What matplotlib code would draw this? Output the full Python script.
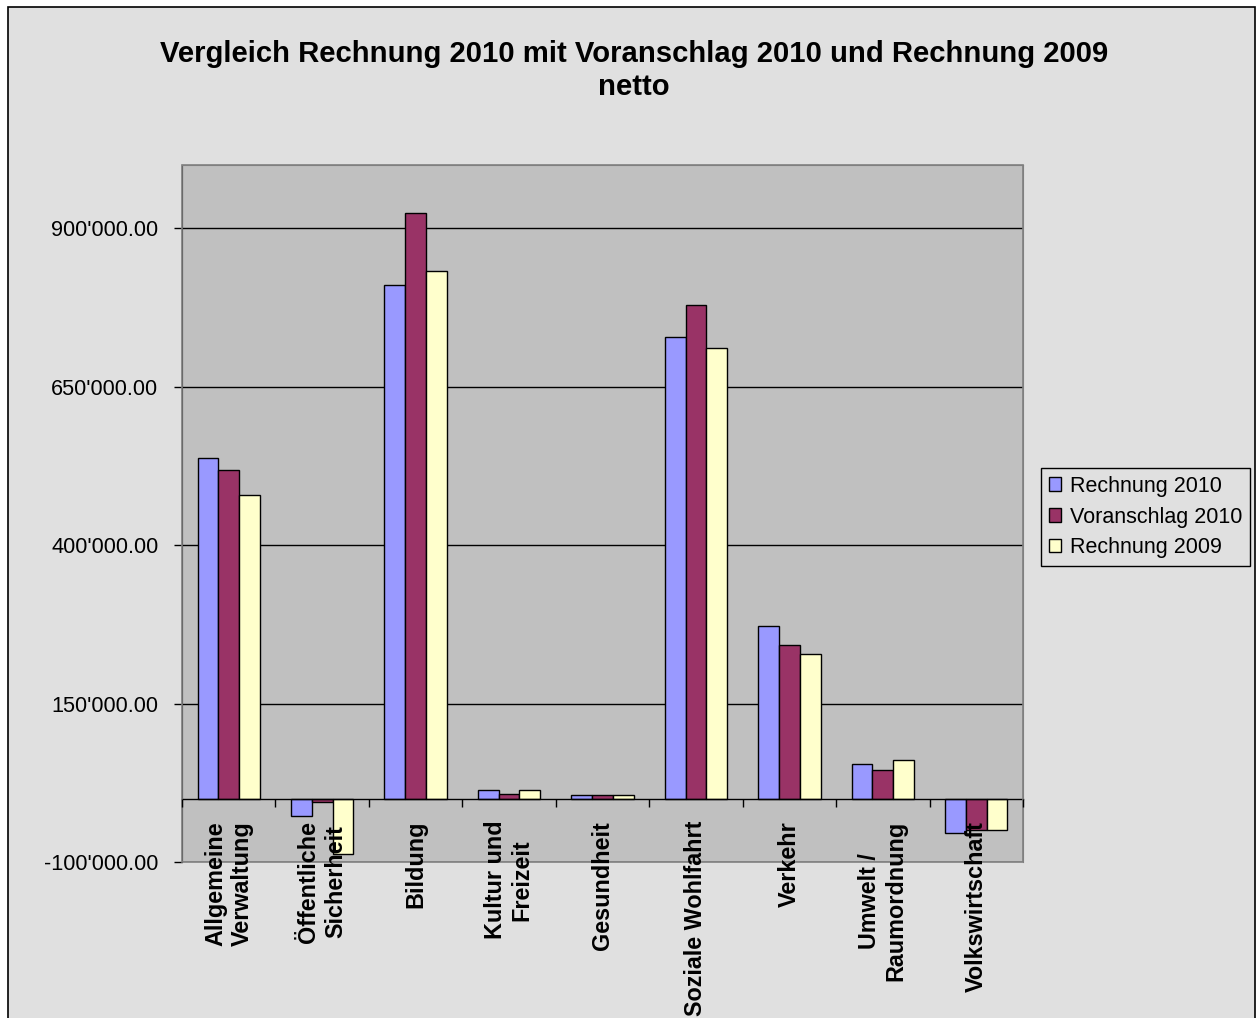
import matplotlib
matplotlib.use("Agg")
import matplotlib.pyplot as plt
import numpy as np
from matplotlib.patches import Rectangle, Patch
from matplotlib.ticker import FuncFormatter, FixedLocator

# Daten (netto)
kategorien = [
    "Allgemeine\nVerwaltung",
    "Öffentliche\nSicherheit",
    "Bildung",
    "Kultur und\nFreizeit",
    "Gesundheit",
    "Soziale Wohlfahrt",
    "Verkehr",
    "Umwelt /\nRaumordnung",
    "Volkswirtschaft",
]
rechnung_2010 = [537000, -28000, 810000, 14000, 5800, 728000, 272000, 54000, -55000]
voranschlag_2010 = [518000, -6000, 924000, 8000, 5800, 779000, 243000, 45000, -50000]
rechnung_2009 = [479000, -88000, 833000, 14000, 5800, 711000, 229000, 61000, -50000]

serien = ["Rechnung 2010", "Voranschlag 2010", "Rechnung 2009"]
farben = ["#9999FF", "#993366", "#FFFFCC"]
y_ticks = [-100000, 150000, 400000, 650000, 900000]

plt.rcParams["font.family"] = ["Liberation Sans", "DejaVu Sans"]

fig = plt.figure(figsize=(12.56, 10.18), dpi=100, facecolor="white")

# Diagrammfläche mit Rahmen
fig.patches.append(Rectangle((8 / 1256, -0.05), (1255 - 8) / 1256, 1 - 7 / 1018 + 0.05,
                             transform=fig.transFigure, facecolor="#e0e0e0",
                             edgecolor="black", linewidth=1.2, zorder=-1))

ax = fig.add_axes([182 / 1256, 1 - 862 / 1018, (1023 - 182) / 1256, (862 - 165) / 1018])
ax.set_facecolor("#c0c0c0")

x = np.arange(len(kategorien))
w = 2 / 9
for i, (werte, farbe) in enumerate(zip([rechnung_2010, voranschlag_2010, rechnung_2009], farben)):
    ax.bar(x + (i - 1) * w, werte, width=w, color=farbe, edgecolor="black",
           linewidth=1.0, zorder=2)

ax.set_xlim(-0.5, len(kategorien) - 0.5)
ax.set_ylim(-100000, 1000000)
ax.set_yticks(y_ticks)
ax.yaxis.set_major_formatter(FuncFormatter(lambda v, p: f"{v:,.2f}".replace(",", "'")))
ax.tick_params(axis="y", labelsize=15.7, length=6, width=1, color="black", pad=11)
ax.grid(axis="y", color="black", linewidth=1)
ax.set_axisbelow(True)
# Beschriftungen der Kategorien liegen über den Balken
ax.xaxis.set_zorder(5)

# Kategorienachse bei 0
ax.spines["bottom"].set_position(("data", 0))
ax.spines["bottom"].set_color("black")
ax.spines["bottom"].set_linewidth(1)
ax.spines["left"].set_color("black")
for s in ["top", "right"]:
    ax.spines[s].set_color("#808080")
ax.add_patch(Rectangle((0, 0), 1, 1, transform=ax.transAxes, fill=False,
                       edgecolor="#808080", linewidth=1.2, zorder=3, clip_on=False))

ax.set_xticks(x)
ax.set_xticklabels(kategorien, rotation=90, fontsize=16.8, fontweight="bold",
                   multialignment="center", va="top", ha="center")
ax.xaxis.set_minor_locator(FixedLocator(np.arange(-0.5, len(kategorien), 1)))
ax.tick_params(axis="x", which="major", length=0, pad=16)
ax.tick_params(axis="x", which="minor", length=6, width=1, color="black")

fig.text(634 / 1256, 1 - 70.5 / 1018,
         "Vergleich Rechnung 2010 mit Voranschlag 2010 und Rechnung 2009\nnetto",
         ha="center", va="center", fontsize=21.1, fontweight="bold", linespacing=1.25)

handles = [Patch(facecolor=f, edgecolor="black", linewidth=1) for f in farben]
leg = fig.legend(handles, serien, loc="center left",
                 bbox_to_anchor=(1041 / 1256, 1 - 517 / 1018),
                 fontsize=15.5, frameon=True, fancybox=False, framealpha=1,
                 facecolor="#e0e0e0", edgecolor="black",
                 handlelength=0.6, handleheight=0.6, handletextpad=0.4,
                 labelspacing=0.45, borderpad=0.35, borderaxespad=0)
leg.get_frame().set_linewidth(1)

fig.savefig("out.png", dpi=100, facecolor=fig.get_facecolor())
